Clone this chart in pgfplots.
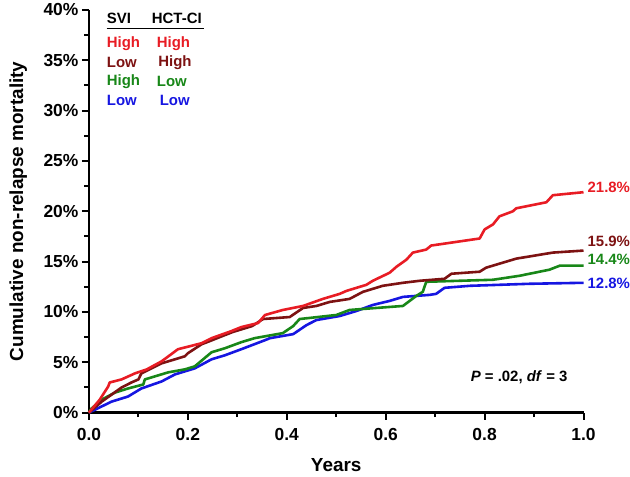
\documentclass[border=0pt]{standalone}
\usepackage{pgfplots}
\pgfplotsset{compat=1.18}
\usepackage{fontspec}
\setmainfont{Liberation Sans}
\definecolor{cRed}{RGB}{232,28,36}
\definecolor{cMaroon}{RGB}{125,18,18}
\definecolor{cGreen}{RGB}{24,135,24}
\definecolor{cBlue}{RGB}{22,22,225}
\begin{document}
\begin{tikzpicture}
\begin{axis}[
  scale only axis, width=495bp, height=403bp,
  xmin=0, xmax=1, ymin=0, ymax=40,
  axis lines=left, axis line style={line width=2.6bp, -},
  tick align=outside, tick pos=left,
  major tick length=7bp, minor tick length=4.5bp,
  every tick/.style={line width=2bp, black},
  xtick={0,0.2,0.4,0.6,0.8,1.0}, xticklabels={0.0,0.2,0.4,0.6,0.8,1.0},
  minor xtick={0.1,0.3,0.5,0.7,0.9},
  ytick={0,5,10,15,20,25,30,35,40},
  yticklabels={0\%,5\%,10\%,15\%,20\%,25\%,30\%,35\%,40\%},
  minor ytick={2.5,7.5,12.5,17.5,22.5,27.5,32.5,37.5},
  ticklabel style={font=\fontsize{17.5}{20}\selectfont\bfseries},
  xticklabel style={yshift=-5bp},
  xlabel={Years}, ylabel={Cumulative non-relapse mortality},
  label style={font=\fontsize{19}{22}\selectfont\bfseries},
  xlabel style={at={(axis description cs:0.5,-0.129)}, anchor=center},
  ylabel style={at={(axis description cs:-0.143,0.5)}, anchor=center},
  clip=false,
  every axis plot/.style={line width=2.6bp, line join=round},
]
\addplot[cBlue] coordinates {
(0,0) (0.046,1.1) (0.079,1.6) (0.106,2.4) (0.147,3.1) (0.174,3.8) (0.214,4.4)
(0.248,5.3) (0.275,5.7) (0.308,6.3) (0.356,7.2) (0.366,7.4) (0.413,7.8)
(0.44,8.7) (0.46,9.2) (0.507,9.6) (0.541,10.1) (0.574,10.7) (0.608,11.1)
(0.635,11.5) (0.689,11.7) (0.702,11.8) (0.719,12.4) (0.77,12.6) (0.89,12.8) (1.0,12.9)};
\addplot[cGreen] coordinates {
(0,0) (0.005,0.4) (0.026,1.3) (0.053,2.0) (0.079,2.4) (0.11,2.8) (0.113,3.3)
(0.16,4.0) (0.194,4.3) (0.214,4.6) (0.248,6.0) (0.275,6.4) (0.308,7.0)
(0.335,7.4) (0.392,7.9) (0.413,8.6) (0.426,9.3) (0.5,9.7) (0.527,10.2)
(0.635,10.6) (0.662,11.6) (0.675,12.0) (0.682,13.0) (0.817,13.2) (0.871,13.6)
(0.931,14.2) (0.952,14.6) (1.0,14.6)};
\addplot[cMaroon] coordinates {
(0,0) (0.026,1.1) (0.046,1.8) (0.066,2.5) (0.086,3.0) (0.1,3.3) (0.106,3.9)
(0.147,4.9) (0.174,5.3) (0.194,5.6) (0.2,5.9) (0.228,6.8) (0.244,7.1)
(0.29,8.0) (0.33,8.6) (0.352,9.3) (0.406,9.5) (0.433,10.4) (0.46,10.6)
(0.487,11.0) (0.527,11.3) (0.554,12.0) (0.594,12.6) (0.635,12.9) (0.669,13.1)
(0.719,13.3) (0.733,13.8) (0.79,14.0) (0.803,14.4) (0.864,15.3) (0.938,15.9) (1.0,16.1)};
\addplot[cRed] coordinates {
(0,0) (0.022,1.3) (0.039,2.6) (0.042,3.0) (0.066,3.3) (0.093,3.9) (0.117,4.3)
(0.147,5.1) (0.18,6.3) (0.228,6.9) (0.248,7.4) (0.288,8.1) (0.308,8.5)
(0.342,8.9) (0.356,9.7) (0.392,10.2) (0.433,10.6) (0.473,11.3) (0.507,11.8)
(0.521,12.1) (0.561,12.7) (0.574,13.1) (0.608,13.9) (0.622,14.5) (0.642,15.2)
(0.655,15.9) (0.682,16.2) (0.692,16.6) (0.79,17.3) (0.80,18.2) (0.817,18.7)
(0.83,19.5) (0.857,20.0) (0.864,20.3) (0.925,20.9) (0.938,21.6) (1.0,21.9)};
% end labels
\begin{scope}[every node/.style={anchor=west, font=\fontsize{15}{18}\selectfont\bfseries, inner sep=0pt}]
\node[text=cRed] at (axis cs:1.008,22.4) {21.8\%};
\node[text=cMaroon] at (axis cs:1.008,17.0) {15.9\%};
\node[text=cGreen] at (axis cs:1.008,15.2) {14.4\%};
\node[text=cBlue] at (axis cs:1.008,12.8) {12.8\%};
% legend table
\node at (axis cs:0.036,39.2) {SVI};
\node at (axis cs:0.127,39.2) {HCT-CI};
\node[text=cRed] at (axis cs:0.036,36.7) {High};
\node[text=cRed] at (axis cs:0.137,36.7) {High};
\node[text=cMaroon] at (axis cs:0.036,34.8) {Low};
\node[text=cMaroon] at (axis cs:0.140,34.8) {High};
\node[text=cGreen] at (axis cs:0.036,32.9) {High};
\node[text=cGreen] at (axis cs:0.137,32.9) {Low};
\node[text=cBlue] at (axis cs:0.036,31.0) {Low};
\node[text=cBlue] at (axis cs:0.143,31.0) {Low};
\node[anchor=east] at (axis cs:0.968,3.5) {\textit{P} = .02, \textit{df} = 3};
\end{scope}
\draw[line width=1.2bp] (axis cs:0.036,38.2) -- (axis cs:0.232,38.2);
\coordinate (o) at (rel axis cs:0,0);
\coordinate (t) at (rel axis cs:1,1);
\end{axis}
\path (o) ++(-89bp,-64bp);
\path (t) ++(46bp,10bp);
\end{tikzpicture}
\end{document}
